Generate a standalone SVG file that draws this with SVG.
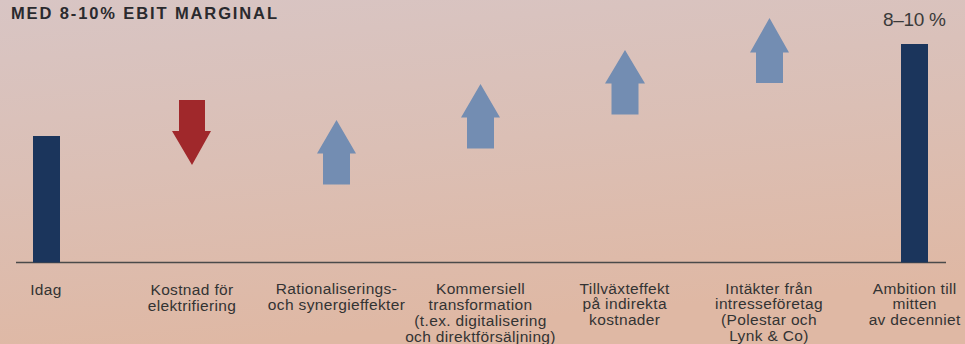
<svg xmlns="http://www.w3.org/2000/svg" width="965" height="344" viewBox="0 0 965 344">
  <defs>
    <linearGradient id="bg" x1="0" y1="0" x2="0.25" y2="1">
      <stop offset="0" stop-color="#d8c5c4"/>
      <stop offset="0.5" stop-color="#dbbfb5"/>
      <stop offset="1" stop-color="#dfb8a4"/>
    </linearGradient>
  </defs>
  <style>
    .lbl { font-family: "Liberation Sans", Arial, sans-serif; font-size: 15.5px; letter-spacing: 0.35px; fill: #333333; text-anchor: middle; }
    .bar { fill: #1b355c; }
    .up { fill: #738db2; }
    .down { fill: #a0282b; }
  </style>
  <rect x="0" y="0" width="965" height="344" fill="url(#bg)"/>
  <text x="11" y="19" font-family="'Liberation Sans', Arial, sans-serif" font-size="16.5" font-weight="bold" fill="#2a2a2e" textLength="266" lengthAdjust="spacing">MED 8-10% EBIT MARGINAL</text>

  <g id="connectors">
    <line x1="16" y1="262.5" x2="946" y2="262.5" stroke="#4a4a4a" stroke-width="1.5"/>
  </g>

  <g id="idag">
    <rect class="bar" x="33" y="136" width="27" height="126.5"/>
    <text class="lbl" x="46" y="295">Idag</text>
  </g>

  <g id="kostnad">
    <polygon class="down" points="179,100 205,100 205,131 211,131 192,165 172,131 179,131"/>
    <text class="lbl" x="192" y="295">Kostnad för</text>
    <text class="lbl" x="192" y="310.5">elektrifiering</text>
  </g>

  <g id="rationalisering">
    <polygon class="up" points="336.5,120 356,153.5 350,153.5 350,184.5 323,184.5 323,153.5 317,153.5"/>
    <text class="lbl" x="336.5" y="294">Rationaliserings-</text>
    <text class="lbl" x="336.5" y="310">och synergieffekter</text>
  </g>

  <g id="kommersiell">
    <polygon class="up" points="480.5,84 500,117.5 494,117.5 494,148.5 467,148.5 467,117.5 461,117.5"/>
    <text class="lbl" x="480.5" y="294">Kommersiell</text>
    <text class="lbl" x="480.5" y="310">transformation</text>
    <text class="lbl" x="480.5" y="326">(t.ex. digitalisering</text>
    <text class="lbl" x="480.5" y="341.5">och direktförsäljning)</text>
  </g>

  <g id="tillvaxt">
    <polygon class="up" points="625,50 645,83.5 638.5,83.5 638.5,114.5 611.5,114.5 611.5,83.5 605,83.5"/>
    <text class="lbl" x="624.7" y="293.5">Tillväxteffekt</text>
    <text class="lbl" x="624.7" y="309.3">på indirekta</text>
    <text class="lbl" x="624.7" y="325">kostnader</text>
  </g>

  <g id="intakter">
    <polygon class="up" points="769.5,18 789,52.5 783,52.5 783,83 756,83 756,52.5 750,52.5"/>
    <text class="lbl" x="769" y="293.5">Intäkter från</text>
    <text class="lbl" x="769" y="309.3">intresseföretag</text>
    <text class="lbl" x="769" y="325">(Polestar och</text>
    <text class="lbl" x="769" y="340.8">Lynk &amp; Co)</text>
  </g>

  <g id="ambition">
    <rect class="bar" x="901" y="44" width="27" height="218.5"/>
    <text x="914.5" y="26.3" font-family="'Liberation Sans', Arial, sans-serif" font-size="19" fill="#3a3a3a" text-anchor="middle" textLength="63" lengthAdjust="spacing">8–10 %</text>
    <text class="lbl" x="914.7" y="293.5">Ambition till</text>
    <text class="lbl" x="914.7" y="309.3">mitten</text>
    <text class="lbl" x="914.7" y="325">av decenniet</text>
  </g>
</svg>
